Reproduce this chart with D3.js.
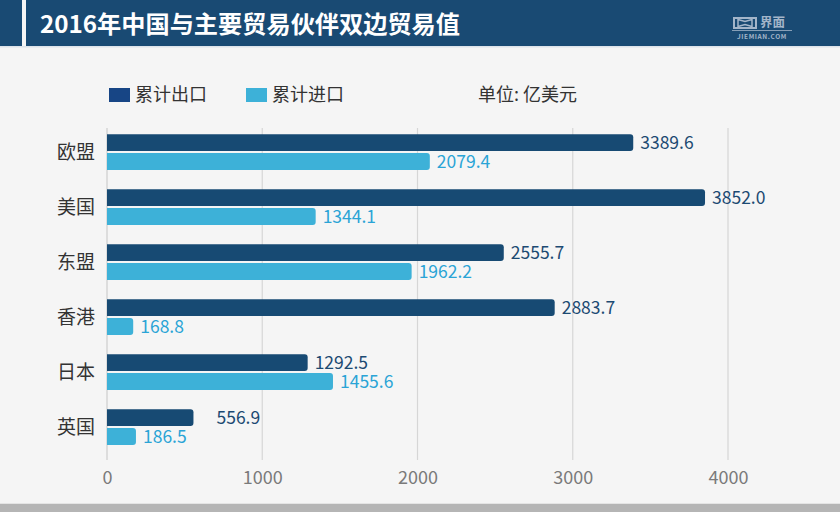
<!DOCTYPE html>
<html><head><meta charset="utf-8">
<script src="https://cdn.jsdelivr.net/npm/d3@7"></script>
<style>
html,body{margin:0;padding:0;background:#f5f5f5;}
svg{display:block;}
text{font-family:"Noto Sans CJK SC","Noto Sans",sans-serif;}
</style></head>
<body>
<svg id="chart" width="840" height="512"></svg>
<script>
const categories = ["欧盟","美国","东盟","香港","日本","英国"];
const exportValues = [3389.6, 3852.0, 2555.7, 2883.7, 1292.5, 556.9];
const importValues = [2079.4, 1344.1, 1962.2, 168.8, 1455.6, 186.5];
const seriesNames = ["累计出口","累计进口"];
const tickValues = [0, 1000, 2000, 3000, 4000];
const title = "2016年中国与主要贸易伙伴双边贸易值";
const unitLabel = "单位: 亿美元";

const svg = d3.select("#chart");
const W = 840, H = 512;
const colors = {exp:"#174a73", imp:"#3db1d8", expText:"#1c4a72", impText:"#2aa4d6", legendExp:"#174585"};

svg.append("rect").attr("width",W).attr("height",H).attr("fill","#f5f5f5");

// Header
svg.append("rect").attr("x",0).attr("y",0).attr("width",22).attr("height",46).attr("fill","#194a73");
svg.append("rect").attr("x",26).attr("y",0).attr("width",W-26).attr("height",46).attr("fill","#194a73");
svg.append("rect").attr("x",0).attr("y",46).attr("width",W).attr("height",1.5).attr("fill","#dde3ea");
svg.append("text").attr("x",40).attr("y",33).attr("fill","#ffffff")
  .attr("font-size",24).attr("font-weight","bold").attr("textLength",420).attr("lengthAdjust","spacingAndGlyphs")
  .text(title);

// Logo
const logoC = "#a3b5c9";
const logo = svg.append("g").attr("fill","none").attr("stroke",logoC).attr("stroke-width",2);
logo.append("path").attr("d","M734,18 L734,28 L756,28 L756,18 Z");
logo.append("path").attr("d","M738,19.5 L745,21.5 L752,19.5 L752,26.5 L745,24.5 L738,26.5 Z").attr("stroke-width",1.5);
svg.append("text").attr("x",760).attr("y",27).attr("fill",logoC).attr("font-size",12.5).attr("font-weight","bold").text("界面");
svg.append("rect").attr("x",732).attr("y",30).attr("width",60).attr("height",0.8).attr("fill",logoC);
svg.append("text").attr("x",762).attr("y",39).attr("text-anchor","middle").attr("fill",logoC)
  .attr("font-size",6.5).attr("font-weight","bold").attr("font-family","DejaVu Sans, sans-serif").attr("letter-spacing",0.6).text("JIEMIAN.COM");

// Legend
const legend = [{n:seriesNames[0], c:colors.legendExp, x:109},{n:seriesNames[1], c:colors.imp, x:246}];
legend.forEach(l=>{
  svg.append("rect").attr("x",l.x).attr("y",88).attr("width",21).attr("height",14).attr("fill",l.c);
  svg.append("text").attr("x",l.x+26).attr("y",101).attr("font-size",18).attr("fill","#333").text(l.n);
});
svg.append("text").attr("x",478).attr("y",101).attr("font-size",18).attr("fill","#333").text(unitLabel);

// Scales
const x = d3.scaleLinear().domain([0,4000]).range([107,728]);
const y0 = d3.scaleBand().domain(categories).range([124.5,454.5]).paddingInner(0.35).paddingOuter(0.175);
const y1 = d3.scaleBand().domain(["exp","imp"]).range([0,y0.bandwidth()]).paddingInner(0.1);

// Gridlines
svg.append("g").selectAll("line").data(tickValues).join("line")
  .attr("x1",d=>x(d)).attr("x2",d=>x(d)).attr("y1",128).attr("y2",460)
  .attr("stroke",d=>d===0?"#dddddd":"#d6d6d6").attr("stroke-width",d=>d===0?2:1.2);

// Axis tick labels
const axis = d3.axisBottom(x).tickValues(tickValues).tickSize(0).tickPadding(0).tickFormat(d3.format("d"));
const ag = svg.append("g").attr("transform","translate(0,460)").call(axis);
ag.select(".domain").remove();
ag.selectAll("text").attr("y",7).attr("dy","0").attr("font-size",18).attr("fill","#7a7a7a")
  .attr("font-family","Lato, 'Noto Sans', sans-serif").attr("dominant-baseline","hanging");

// Category labels
svg.append("g").selectAll("text").data(categories).join("text")
  .attr("x",95).attr("y",d=>y0(d)+y0.bandwidth()/2).attr("dy","0.35em")
  .attr("text-anchor","end").attr("font-size",19).attr("fill","#333").text(d=>d);

// Bars
const rows = categories.map((c,i)=>({c, exp:exportValues[i], imp:importValues[i]}));
function barPath(x0, x1, yTop, h, r){
  r = Math.min(r, (x1-x0));
  return `M${x0},${yTop} H${x1-r} Q${x1},${yTop} ${x1},${yTop+r} V${yTop+h-r} Q${x1},${yTop+h} ${x1-r},${yTop+h} H${x0} Z`;
}
["exp","imp"].forEach(k=>{
  const g = svg.append("g");
  g.selectAll("path").data(rows).join("path")
    .attr("d",d=>barPath(x(0), x(d[k]), y0(d.c)+y1(k), y1.bandwidth(), 3))
    .attr("fill", colors[k]);
  g.selectAll("text").data(rows).join("text")
    .attr("x",d=>x(d[k])+7 + (k==="exp" && d[k]<1000 ? 16 : 0))
    .attr("y",d=>y0(d.c)+y1(k)+y1.bandwidth()/2).attr("dy","0.36em")
    .attr("font-size",17.5).attr("fill", k==="exp"?colors.expText:colors.impText)
    .attr("font-family","'Open Sans', 'Noto Sans', sans-serif")
    .text(d=>d3.format(".1f")(d[k]));
});

// Bottom band
svg.append("rect").attr("x",0).attr("y",503).attr("width",W).attr("height",1).attr("fill","#e4e4e4");
svg.append("rect").attr("x",0).attr("y",504).attr("width",W).attr("height",8).attr("fill","#b5b5b5");
</script>
</body></html>
